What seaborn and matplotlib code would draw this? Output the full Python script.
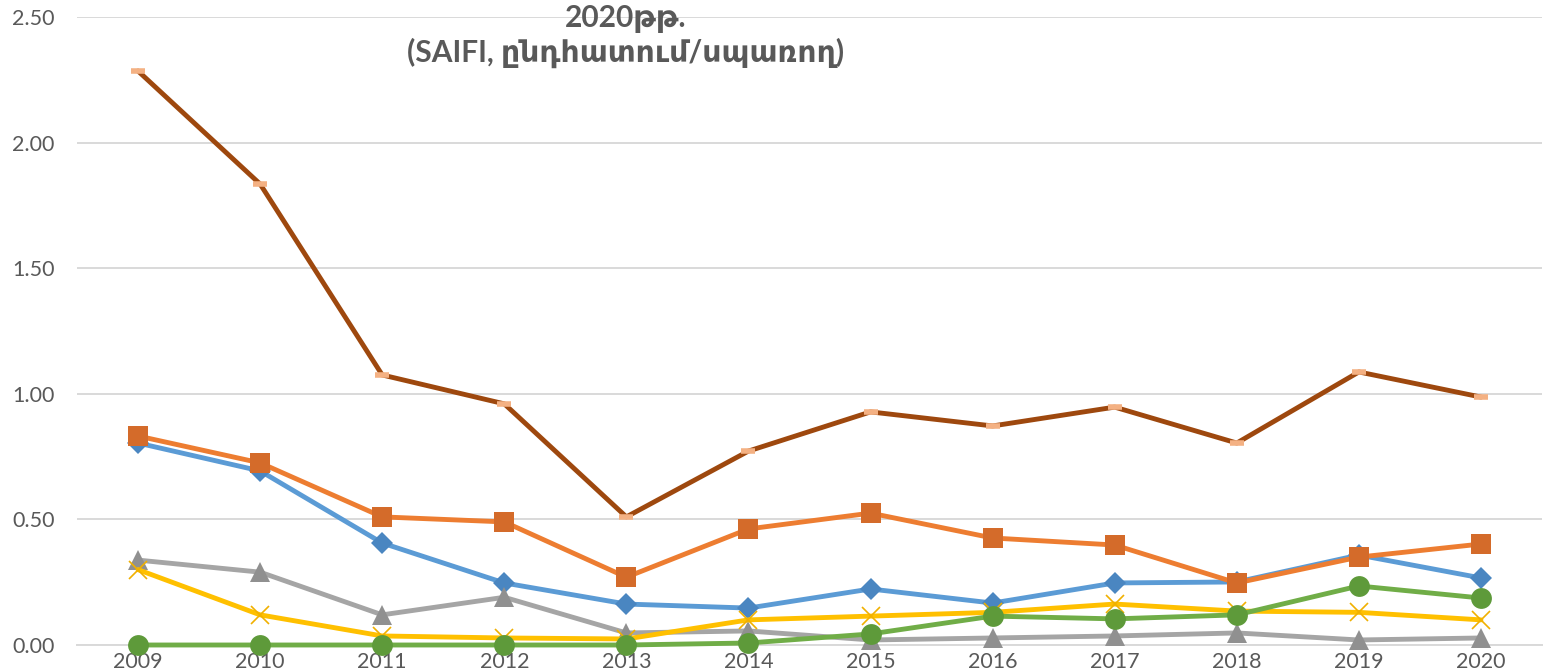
import pandas as pd
import matplotlib
matplotlib.use('Agg')
import matplotlib.pyplot as plt
import seaborn as sns

# данные
years = ['2009', '2010', '2011', '2012', '2013', '2014', '2015', '2016', '2017', '2018', '2019', '2020']
blue_vals = [0.804, 0.693, 0.406, 0.247, 0.163, 0.147, 0.223, 0.167, 0.247, 0.251, 0.358, 0.267]
orange_vals = [0.832, 0.725, 0.510, 0.490, 0.270, 0.462, 0.525, 0.426, 0.398, 0.247, 0.350, 0.402]
grey_vals = [0.338, 0.290, 0.120, 0.190, 0.048, 0.056, 0.020, 0.028, 0.036, 0.048, 0.020, 0.028]
yellow_vals = [0.300, 0.120, 0.036, 0.028, 0.024, 0.100, 0.115, 0.130, 0.163, 0.135, 0.130, 0.100]
green_vals = [0.0, 0.0, 0.0, 0.0, 0.0, 0.008, 0.044, 0.115, 0.104, 0.120, 0.235, 0.187]
brown_vals = [2.285, 1.835, 1.075, 0.960, 0.510, 0.772, 0.928, 0.872, 0.947, 0.804, 1.087, 0.987]

title_1 = '2020թթ.'
title_2 = '(SAIFI, ընդհատում/սպառող)'

sns.set_style('white')
plt.rcParams['font.family'] = ['Lato', 'DejaVu Sans']

W, H = 1547, 668
fig = plt.figure(figsize=(W / 100, H / 100), dpi=100)
ax = fig.add_axes([77 / W, 23 / H, (1542 - 77) / W, (645 - 17) / H])

x = list(range(len(years)))

# (значения, цвет линии, маркер, цвет маркера, размер маркера)
series = [
    (blue_vals, '#5B9BD5', 'D', '#4A86C1', 11),
    (orange_vals, '#ED7D31', 's', '#D46B2A', 14),
    (grey_vals, '#A5A5A5', '^', '#909090', 14),
    (yellow_vals, '#FFC000', 'x', '#F0B000', 13),
    (green_vals, '#70AD47', 'o', '#5E9A3A', 15),
]
for vals, c, m, mc, ms in series:
    sns.lineplot(x=x, y=vals, ax=ax, color=c, linewidth=3.5, marker=m,
                 markersize=ms, markerfacecolor=mc, markeredgecolor=mc,
                 markeredgewidth=1.2 if m == 'x' else 0, zorder=3, clip_on=False)

sns.lineplot(x=x, y=brown_vals, ax=ax, color='#9E480E', linewidth=3.5, marker='_',
             markersize=10, markeredgecolor='#F4B183', markeredgewidth=4, zorder=4,
             clip_on=False)

ax.set_xlim(-0.5, 11.5)
ax.set_ylim(0, 2.5)
ax.set_yticks([0, 0.5, 1.0, 1.5, 2.0, 2.5])
ax.set_yticklabels(['0.00', '0.50', '1.00', '1.50', '2.00', '2.50'])
ax.set_xticks(x)
ax.set_xticklabels(years)
ax.set_xticks([i - 0.5 for i in range(len(years) + 1)], minor=True)

ax.grid(axis='y', color='#D9D9D9', linewidth=1.4)
ax.grid(axis='x', visible=False)
for s in ['left', 'right', 'top']:
    ax.spines[s].set_visible(False)
ax.spines['bottom'].set_color('#D9D9D9')
ax.spines['bottom'].set_linewidth(1.4)
ax.spines['bottom'].set_zorder(1)

ax.tick_params(axis='y', length=0, pad=16, labelsize=15.5, labelcolor='#595959')
ax.tick_params(axis='x', which='major', length=0, pad=5, labelsize=15.5, labelcolor='#595959')
ax.tick_params(axis='x', which='minor', length=30, width=1.4, color='#D9D9D9')
ax.set_xlabel('')
ax.set_ylabel('')

fig.text(626 / W, 1 - 27 / H, title_1, ha='center', va='baseline',
         fontsize=21.5, fontweight='bold', color='#595959')
fig.text(626 / W, 1 - 62 / H, title_2, ha='center', va='baseline',
         fontsize=21.5, fontweight='bold', color='#595959')

fig.savefig('out.png', dpi=100)
